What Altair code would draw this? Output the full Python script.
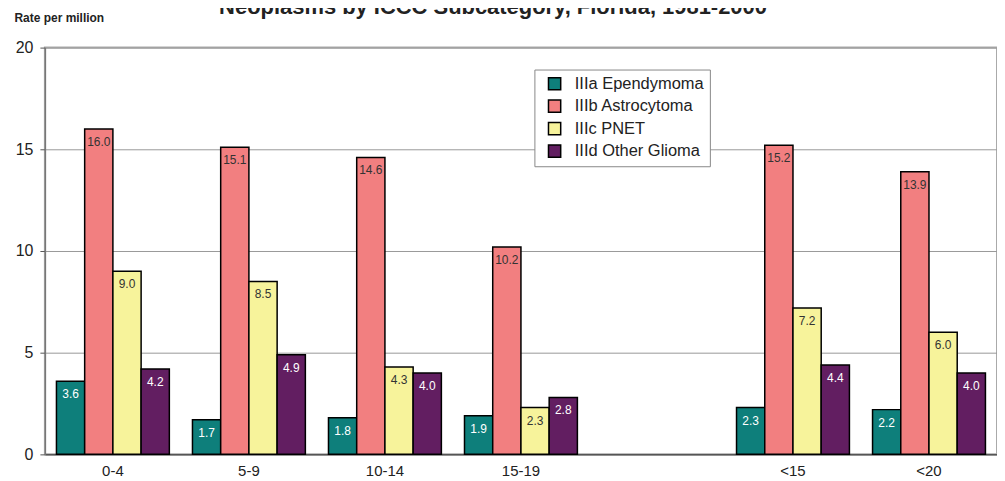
import altair as alt
import pandas as pd

categories = ["0-4", "5-9", "10-14", "15-19", "<15", "<20"]
axis_domain = ["0-4", "5-9", "10-14", "15-19", " ", "<15", "<20"]
series = ["IIIa Ependymoma", "IIIb Astrocytoma", "IIIc PNET", "IIId Other Glioma"]
colors = ["#0E7F7B", "#F27F80", "#F7F39B", "#621E61"]
ependymoma = [3.6, 1.7, 1.8, 1.9, 2.3, 2.2]
astrocytoma = [16.0, 15.1, 14.6, 10.2, 15.2, 13.9]
pnet = [9.0, 8.5, 4.3, 2.3, 7.2, 6.0]
other_glioma = [4.2, 4.9, 4.0, 2.8, 4.4, 4.0]

rows = []
for s, vals in zip(series, [ependymoma, astrocytoma, pnet, other_glioma]):
    for c, v in zip(categories, vals):
        rows.append({"age": c, "series": s, "rate": v})
df = pd.DataFrame(rows)

x = alt.X("age:N", scale=alt.Scale(domain=axis_domain, paddingInner=0.17, paddingOuter=0.085),
          axis=alt.Axis(title=None, ticks=False, labelAngle=0, labelFontSize=15, labelColor="#222",
                        labelPadding=9, domainColor="#555", domainWidth=1.5, grid=False,
                        labelFont="Liberation Sans"))
xo = alt.XOffset("series:N", sort=series, scale=alt.Scale(paddingInner=0, paddingOuter=0))
y = alt.Y("rate:Q", scale=alt.Scale(domain=[0, 20]),
          axis=alt.Axis(values=[0, 5, 10, 15, 20], title="Rate per million", titleAngle=0,
                        titleX=-31, titleY=-26, titleAlign="left", titleBaseline="alphabetic",
                        titleFontSize=12, titleFont="Liberation Sans", titleFontWeight="bold",
                        titleColor="#222", labelFontSize=16, labelFont="Liberation Sans",
                        labelColor="#222", tickSize=5, tickColor="#555", domainColor="#777",
                        domainWidth=1.5, gridColor="#999", gridWidth=1, labelPadding=7))

bars = alt.Chart(df).mark_bar(stroke="black", strokeWidth=1.5).encode(
    x=x, xOffset=xo, y=y,
    fill=alt.Fill("series:N", sort=series, scale=alt.Scale(domain=series, range=colors),
                  legend=alt.Legend(title=None, orient="none", legendX=491, legendY=22,
                                    strokeColor="#888", fillColor="white", padding=6,
                                    symbolType="square", symbolSize=150, symbolStrokeColor="black",
                                    symbolStrokeWidth=1.5, symbolOffset=6,
                                    labelFontSize=16.5, labelFont="Liberation Sans",
                                    labelColor="#222", rowPadding=3.5, labelOffset=12)),
)

labels = alt.Chart(df).mark_text(baseline="top", dy=8, fontSize=12, font="Liberation Sans").encode(
    x=x, xOffset=xo, y=y,
    text=alt.Text("rate:Q", format=".1f"),
    color=alt.condition("datum.series == 'IIIa Ependymoma' || datum.series == 'IIId Other Glioma'",
                        alt.value("white"), alt.value("#333")),
)

chart = alt.layer(bars, labels).properties(
    width=955, height=408,
    title=alt.TitleParams("Neoplasms by ICCC Subcategory, Florida, 1981-2000", fontSize=22,
                          font="Liberation Sans", fontWeight="bold", color="#222",
                          anchor="middle", dx=-28, dy=7, offset=0),
    autosize=alt.AutoSizeParams(type="none"),
    padding={"left": 37, "top": 39, "right": 0, "bottom": 30},
).configure_view(stroke="#aaa", strokeWidth=2)

chart.save("out.html", embed_options={"renderer": "svg", "actions": False})
